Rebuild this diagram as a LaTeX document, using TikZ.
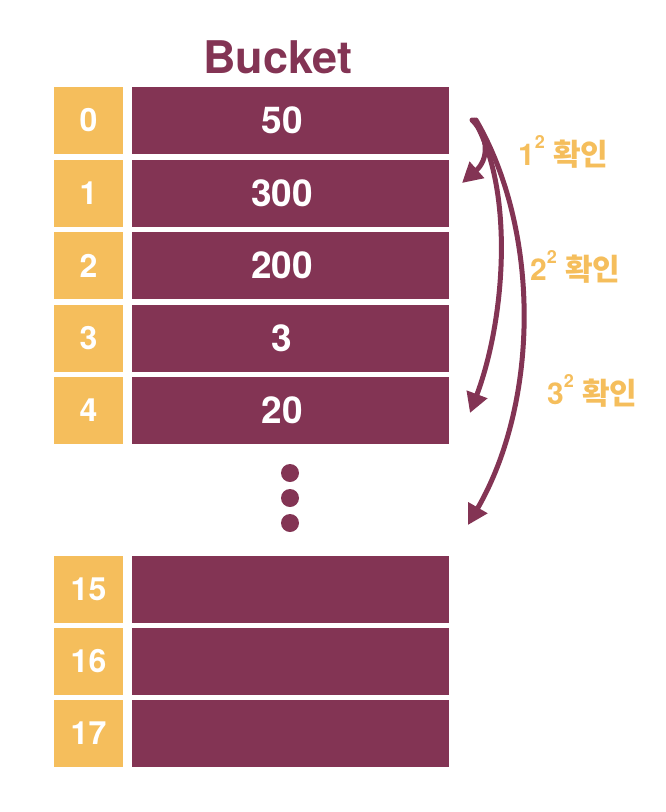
\documentclass[tikz,border=0pt]{standalone}
\usepackage{fontspec}
\setmainfont{TeX Gyre Heros}
\newfontfamily\korfont{Noto Sans CJK KR Bold}
\usetikzlibrary{arrows.meta}
\definecolor{bucketred}{HTML}{833454}
\definecolor{idxyellow}{HTML}{F5BE5C}
\newcommand{\sqtwo}{\raisebox{17pt}{\fontsize{18}{18}\selectfont 2}}

\begin{document}
\begin{tikzpicture}[x=1pt,y=-1pt,line cap=round,line join=round,
  >={Triangle[length=20pt,width=21pt]},
  idx/.style={fill=idxyellow,minimum width=69pt,minimum height=67pt,inner sep=0pt,
    text=white,font=\fontsize{32}{32}\selectfont\bfseries},
  cell/.style={fill=bucketred,minimum width=317pt,minimum height=67pt,inner sep=0pt},
  valtext/.style={text=white,font=\fontsize{37}{37}\selectfont\bfseries,xshift=-8.5pt},
  probe/.style={draw=bucketred,line width=5pt,->},
  chk/.style={text=idxyellow,inner sep=0pt,anchor=base west,font=\fontsize{30}{30}\selectfont\bfseries}]
\useasboundingbox (0,0) rectangle (666,812);
% title
\node[text=bucketred,font=\fontsize{45}{45}\selectfont\bfseries,anchor=base] (title) at (278,73) {Bucket};
% index column
\node[idx] (i0) at (88.5,120.5) {0};
\node[idx] (i1) at (88.5,193) {1};
\node[idx] (i2) at (88.5,265.5) {2};
\node[idx] (i3) at (88.5,338) {3};
\node[idx] (i4) at (88.5,410.5) {4};
\node[idx] (i15) at (88.5,589) {15};
\node[idx] (i16) at (88.5,661) {16};
\node[idx] (i17) at (88.5,733.5) {17};
% bucket cells
\node[cell,label={[valtext]center:50}] (b0) at (290.5,120.5) {};
\node[cell,label={[valtext]center:300}] (b1) at (290.5,193) {};
\node[cell,label={[valtext]center:200}] (b2) at (290.5,265.5) {};
\node[cell,label={[valtext]center:3}] (b3) at (290.5,338) {};
\node[cell,label={[valtext]center:20}] (b4) at (290.5,410.5) {};
\node[cell] (b15) at (290.5,589) {};
\node[cell] (b16) at (290.5,661) {};
\node[cell] (b17) at (290.5,733.5) {};
% dots
\fill[bucketred] (290,473) circle (9pt);
\fill[bucketred] (290,498) circle (9pt);
\fill[bucketred] (290,523) circle (9pt);
% probes
\coordinate (s1) at (472,120);
\coordinate (s2) at (474,120);
\coordinate (s3) at (476,120);
\coordinate (e1) at (462,183);
\coordinate (e2) at (470,413);
\coordinate (e3) at (468,525);
\draw[probe] (s1) .. controls (490,138) and (488,160) .. (e1);
\draw[probe] (s2) .. controls (515,190) and (505,320) .. (e2);
\draw[probe] (s3) .. controls (540,230) and (540,400) .. (e3);
% labels
\node[chk] (c1) at (518,165) {1\sqtwo\ {\korfont 확인}};
\node[chk] (c2) at (530,280) {2\sqtwo\ {\korfont 확인}};
\node[chk] (c3) at (547,404) {3\sqtwo\ {\korfont 확인}};
\end{tikzpicture}
\end{document}
